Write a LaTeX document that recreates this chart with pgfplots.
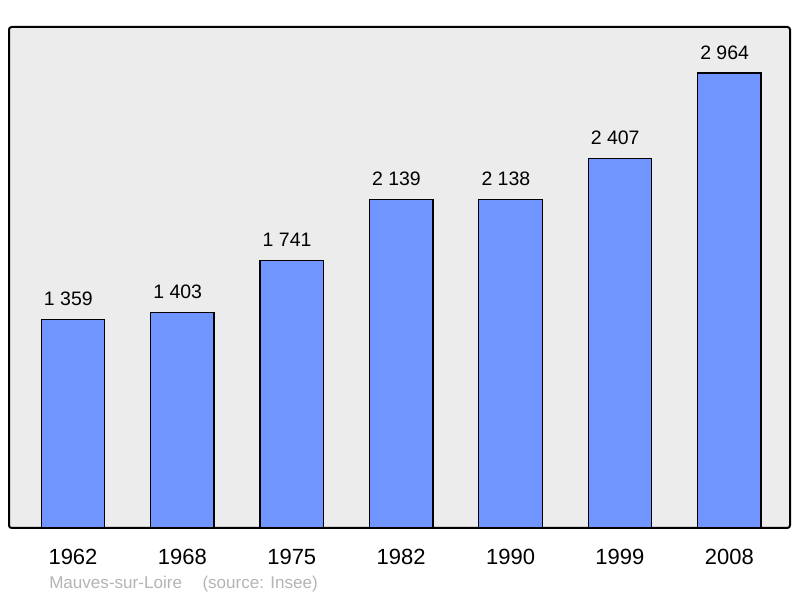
\documentclass[border=0pt]{standalone}
\usepackage{pgfplots}
\pgfplotsset{compat=1.18}
\usepackage{fontspec}
\setmainfont{Liberation Sans}
\definecolor{barblue}{HTML}{7095FF}
\definecolor{bg}{HTML}{ECECEC}
\definecolor{foot}{HTML}{B4B4B4}
\begin{document}
\begin{tikzpicture}[x=0.75pt,y=0.75pt]
\path[use as bounding box] (0,0) rectangle (800,598);
\begin{axis}[
  at={(9*0.75pt,70*0.75pt)}, anchor=south west,
  scale only axis,
  width=781*0.75pt, height=501*0.75pt,
  xmin=-0.585, xmax=6.555,
  ymin=0, ymax=3264,
  axis background/.style={fill=bg},
  axis line style={line width=1.5pt, rounded corners=2pt},
  ybar, bar width=0.58,
  xtick=data,
  xticklabels={1962,1968,1975,1982,1990,1999,2008},
  xticklabel style={font=\fontsize{16.5}{18}\selectfont, yshift=-12pt},
  major tick length=0pt,
  ytick=\empty,
  /pgf/number format/assume math mode=true,
  nodes near coords={\pgfmathprintnumber[1000 sep={\ }]{\pgfplotspointmeta}},
  nodes near coords style={font=\fontsize{14.6}{16}\selectfont, anchor=south, yshift=6.5pt, xshift=-3.5pt},
]
\addplot[fill=barblue, draw=black, line width=1pt] coordinates {
(0,1359) (1,1403) (2,1741) (3,2139) (4,2138) (5,2407) (6,2964)};
\end{axis}
\node[anchor=base west, text=foot, font=\fontsize{12.8}{14}\selectfont, inner sep=0pt] at (49,9) {Mauves-sur-Loire\hspace{1.2em}(source: Insee)};
\end{tikzpicture}
\end{document}
